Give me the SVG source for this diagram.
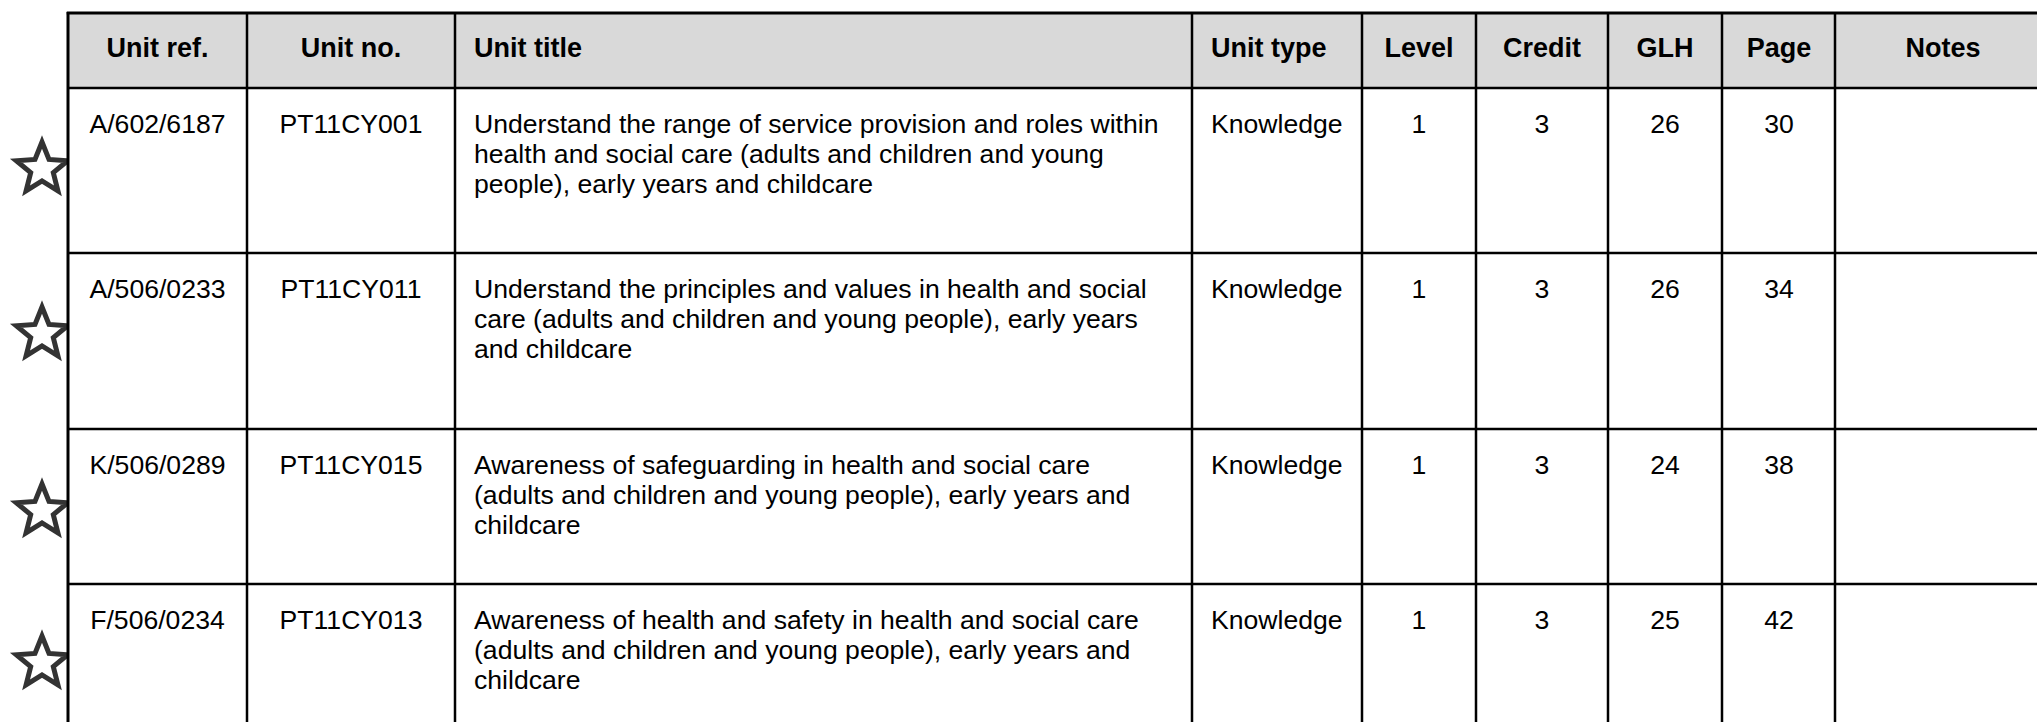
<svg xmlns="http://www.w3.org/2000/svg" width="2037" height="722" viewBox="0 0 2037 722">
<defs>
<style>
.t{font-family:"Liberation Sans",Arial,sans-serif;font-size:26.6px;fill:#000}
.h{font-family:"Liberation Sans",Arial,sans-serif;font-size:27px;font-weight:bold;fill:#000}
.c{text-anchor:middle}
.ln{stroke:#000;stroke-width:2.5;fill:none}
.star{fill:none;stroke:#333;stroke-width:5;stroke-linejoin:miter}
</style>
<path id="st" d="M0,-27 L7,-9.6 L25.7,-8.3 L11.3,3.7 L15.9,21.8 L0,11.9 L-15.9,21.8 L-11.3,3.7 L-25.7,-8.3 L-7,-9.6 Z"/>
</defs>
<rect width="2037" height="722" fill="#fff"/>
<g id="stars">
<use href="#st" class="star" x="42" y="169"/>
<use href="#st" class="star" x="42" y="334"/>
<use href="#st" class="star" x="42" y="511"/>
<use href="#st" class="star" x="42" y="663"/>
</g>
<g id="table-bg">
<rect x="68" y="13" width="1990" height="720" fill="#fff"/>
<rect x="68" y="13" width="1990" height="75" fill="#d9d9d9"/>
</g>
<g id="header">
<text class="h c" x="157.5" y="57">Unit ref.</text>
<text class="h c" x="351" y="57">Unit no.</text>
<text class="h" x="474" y="57">Unit title</text>
<text class="h" x="1211" y="57">Unit type</text>
<text class="h c" x="1419" y="57">Level</text>
<text class="h c" x="1542" y="57">Credit</text>
<text class="h c" x="1665" y="57">GLH</text>
<text class="h c" x="1779" y="57">Page</text>
<text class="h c" x="1943" y="57">Notes</text>
</g>
<g id="row1">
<text class="t c" x="157.5" y="133">A/602/6187</text>
<text class="t c" x="351" y="133">PT11CY001</text>
<text class="t" x="474" y="133">Understand the range of service provision and roles within</text>
<text class="t" x="474" y="163">health and social care (adults and children and young</text>
<text class="t" x="474" y="193">people), early years and childcare</text>
<text class="t" x="1211" y="133">Knowledge</text>
<text class="t c" x="1419" y="133">1</text>
<text class="t c" x="1542" y="133">3</text>
<text class="t c" x="1665" y="133">26</text>
<text class="t c" x="1779" y="133">30</text>
</g>
<g id="row2">
<text class="t c" x="157.5" y="298">A/506/0233</text>
<text class="t c" x="351" y="298">PT11CY011</text>
<text class="t" x="474" y="298">Understand the principles and values in health and social</text>
<text class="t" x="474" y="328">care (adults and children and young people), early years</text>
<text class="t" x="474" y="358">and childcare</text>
<text class="t" x="1211" y="298">Knowledge</text>
<text class="t c" x="1419" y="298">1</text>
<text class="t c" x="1542" y="298">3</text>
<text class="t c" x="1665" y="298">26</text>
<text class="t c" x="1779" y="298">34</text>
</g>
<g id="row3">
<text class="t c" x="157.5" y="474">K/506/0289</text>
<text class="t c" x="351" y="474">PT11CY015</text>
<text class="t" x="474" y="474">Awareness of safeguarding in health and social care</text>
<text class="t" x="474" y="504">(adults and children and young people), early years and</text>
<text class="t" x="474" y="534">childcare</text>
<text class="t" x="1211" y="474">Knowledge</text>
<text class="t c" x="1419" y="474">1</text>
<text class="t c" x="1542" y="474">3</text>
<text class="t c" x="1665" y="474">24</text>
<text class="t c" x="1779" y="474">38</text>
</g>
<g id="row4">
<text class="t c" x="157.5" y="629">F/506/0234</text>
<text class="t c" x="351" y="629">PT11CY013</text>
<text class="t" x="474" y="629">Awareness of health and safety in health and social care</text>
<text class="t" x="474" y="659">(adults and children and young people), early years and</text>
<text class="t" x="474" y="689">childcare</text>
<text class="t" x="1211" y="629">Knowledge</text>
<text class="t c" x="1419" y="629">1</text>
<text class="t c" x="1542" y="629">3</text>
<text class="t c" x="1665" y="629">25</text>
<text class="t c" x="1779" y="629">42</text>
</g>
<g id="grid" class="ln">
<line x1="66.75" y1="13" x2="2040" y2="13" stroke-width="3"/>
<line x1="68" y1="88" x2="2040" y2="88"/>
<line x1="68" y1="253" x2="2040" y2="253"/>
<line x1="68" y1="429" x2="2040" y2="429"/>
<line x1="68" y1="584" x2="2040" y2="584"/>
<line x1="68" y1="12" x2="68" y2="730" stroke-width="3"/>
<line x1="247" y1="13" x2="247" y2="730"/>
<line x1="455" y1="13" x2="455" y2="730"/>
<line x1="1192" y1="13" x2="1192" y2="730"/>
<line x1="1362" y1="13" x2="1362" y2="730"/>
<line x1="1476" y1="13" x2="1476" y2="730"/>
<line x1="1608" y1="13" x2="1608" y2="730"/>
<line x1="1722" y1="13" x2="1722" y2="730"/>
<line x1="1835" y1="13" x2="1835" y2="730"/>
</g>
</svg>
